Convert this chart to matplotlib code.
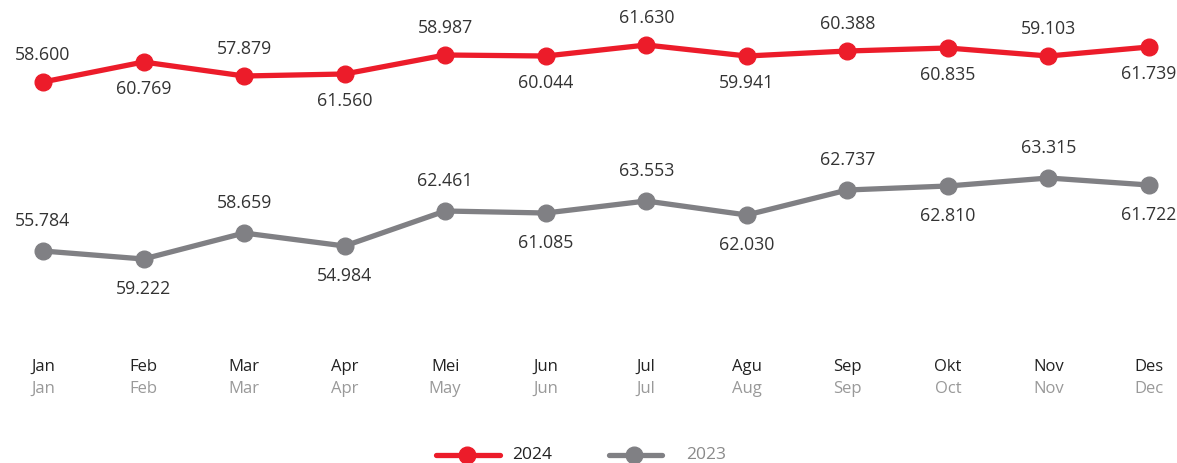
import matplotlib.pyplot as plt
import numpy as np

months_id = ["Jan", "Feb", "Mar", "Apr", "Mei", "Jun", "Jul", "Agu", "Sep", "Okt", "Nov", "Des"]
months_en = ["Jan", "Feb", "Mar", "Apr", "May", "Jun", "Jul", "Aug", "Sep", "Oct", "Nov", "Dec"]

# plotted position of each point (chart index units)
pos_2024 = [381, 401, 387, 389, 408, 407, 418, 407, 412, 415, 407, 416]
pos_2023 = [212, 204, 230, 217, 252, 250, 262, 248, 273, 277, 285, 278]

# values printed next to each point
labels_2024 = ["58.600", "60.769", "57.879", "61.560", "58.987", "60.044",
               "61.630", "59.941", "60.388", "60.835", "59.103", "61.739"]
labels_2023 = ["55.784", "59.222", "58.659", "54.984", "62.461", "61.085",
               "63.553", "62.030", "62.737", "62.810", "63.315", "61.722"]

RED = "#ec1c2a"
GREY = "#808084"
FONT = "Open Sans"

W, H = 1177, 463
fig = plt.figure(figsize=(W / 100, H / 100), dpi=100)
ax = fig.add_axes([0, 0, 1, 1])
x = np.arange(len(months_id))

step = (1149 - 43) / 11
ax.set_xlim(-43 / step, 11 + (W - 1149) / step)
ax.set_ylim(0, H)
ax.axis("off")

for vals, labs, color, off in [(pos_2024, labels_2024, RED, 27),
                               (pos_2023, labels_2023, GREY, 30)]:
    ax.plot(x, vals, color=color, lw=3.8, marker="o", ms=12,
            solid_capstyle="round", zorder=3)
    for i, (v, lab) in enumerate(zip(vals, labs)):
        dy = off if i % 2 == 0 else -off
        ax.annotate(lab, xy=(i, v), xytext=(0, dy * 0.72), textcoords="offset points",
                    ha="center", va="center", fontsize=12.8, color="#333333",
                    family=FONT)

for i, (a, b) in enumerate(zip(months_id, months_en)):
    ax.text(i, H - 367, a, ha="center", va="center", fontsize=12,
            color="#222222", family=FONT)
    ax.text(i, H - 389, b, ha="center", va="center", fontsize=12,
            color="#999999", family=FONT)

# legend drawn in axes space
def px(xp):
    return -43 / step + xp / step

for x0, x1, xc, tx, color, name, tcol in [(436, 500, 467, 512, RED, "2024", "#222222"),
                                          (609, 662, 634, 686, GREY, "2023", "#8a8a8a")]:
    ax.plot([px(x0), px(x1)], [H - 455] * 2, color=color, lw=3.8,
            solid_capstyle="round", clip_on=False)
    ax.plot([px(xc)], [H - 455], "o", color=color, ms=12, clip_on=False)
    ax.text(px(tx), H - 455, name, ha="left", va="center", fontsize=12.5,
            color=tcol, family=FONT)

fig.savefig("out.png", dpi=100)
